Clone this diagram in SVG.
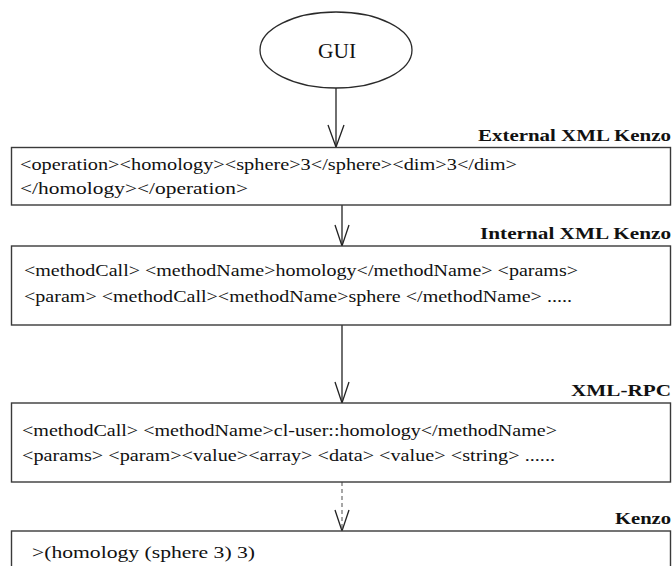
<svg xmlns="http://www.w3.org/2000/svg" width="672" height="566" viewBox="0 0 672 566">
<defs>
<style>
.bg{fill:#ffffff}
.box{fill:#ffffff;stroke:#3a3a3a;stroke-width:1.4}
.ell{fill:#ffffff;stroke:#2a2a2a;stroke-width:1.3}
.t{font-family:'Liberation Serif',serif;font-size:17px;fill:#111111}
.lbl{font-family:'Liberation Serif',serif;font-size:17px;font-weight:bold;fill:#111111;text-anchor:end}
.gui{font-family:'Liberation Serif',serif;font-size:20px;fill:#111111;text-anchor:middle}
.ln{stroke:#222222;stroke-width:1.3;fill:none}
.dash{stroke:#777777;stroke-width:1.3;fill:none;stroke-dasharray:4 3}
.head{stroke:#222222;stroke-width:1.3;fill:none}
</style>
</defs>
<rect class="bg" x="0" y="0" width="672" height="566"/>
<g id="connectors">
<line class="ln" x1="336" y1="88" x2="336" y2="147"/>
<polyline class="head" points="328,125 336,147 344,125"/>
<line class="ln" x1="342" y1="205" x2="342" y2="246"/>
<polyline class="head" points="335,225 342,246 349,225"/>
<line class="ln" x1="342" y1="325" x2="342" y2="403"/>
<polyline class="head" points="335,382 342,403 349,382"/>
<line class="dash" x1="342" y1="482" x2="342" y2="530"/>
<polyline class="head" points="335,510 342,531 349,510"/>
</g>
<g id="gui">
<ellipse class="ell" cx="336" cy="50" rx="76" ry="38"/>
<text class="gui" x="337" y="58" textLength="38" lengthAdjust="spacingAndGlyphs">GUI</text>
</g>
<g id="external">
<text class="lbl" x="671" y="141" textLength="193" lengthAdjust="spacingAndGlyphs">External XML Kenzo</text>
<rect class="box" x="11.5" y="147.5" width="659" height="57.5"/>
<text class="t" x="20" y="170" textLength="497" lengthAdjust="spacingAndGlyphs">&lt;operation&gt;&lt;homology&gt;&lt;sphere&gt;3&lt;/sphere&gt;&lt;dim&gt;3&lt;/dim&gt;</text>
<text class="t" x="20" y="194" textLength="228" lengthAdjust="spacingAndGlyphs">&lt;/homology&gt;&lt;/operation&gt;</text>
</g>
<g id="internal">
<text class="lbl" x="671" y="239" textLength="191" lengthAdjust="spacingAndGlyphs">Internal XML Kenzo</text>
<rect class="box" x="11.5" y="246" width="659" height="79"/>
<text class="t" x="24" y="276" textLength="554" lengthAdjust="spacingAndGlyphs">&lt;methodCall&gt; &lt;methodName&gt;homology&lt;/methodName&gt; &lt;params&gt;</text>
<text class="t" x="24" y="302" textLength="548" lengthAdjust="spacingAndGlyphs">&lt;param&gt; &lt;methodCall&gt;&lt;methodName&gt;sphere &lt;/methodName&gt; .....</text>
</g>
<g id="xmlrpc">
<text class="lbl" x="671" y="396" textLength="100" lengthAdjust="spacingAndGlyphs">XML-RPC</text>
<rect class="box" x="11.5" y="403" width="659" height="79"/>
<text class="t" x="22" y="436" textLength="535" lengthAdjust="spacingAndGlyphs">&lt;methodCall&gt; &lt;methodName&gt;cl-user::homology&lt;/methodName&gt;</text>
<text class="t" x="22" y="461" textLength="533" lengthAdjust="spacingAndGlyphs">&lt;params&gt; &lt;param&gt;&lt;value&gt;&lt;array&gt; &lt;data&gt; &lt;value&gt; &lt;string&gt; ......</text>
</g>
<g id="kenzo">
<text class="lbl" x="671" y="524" textLength="56" lengthAdjust="spacingAndGlyphs">Kenzo</text>
<rect class="box" x="11.5" y="531" width="659" height="45"/>
<text class="t" x="32" y="558" textLength="223" lengthAdjust="spacingAndGlyphs">&gt;(homology (sphere 3) 3)</text>
</g>
</svg>
